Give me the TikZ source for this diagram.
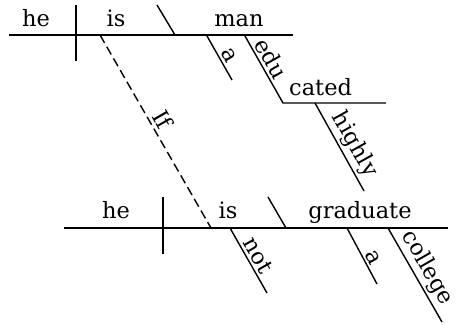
\documentclass[tikz,border=0pt]{standalone}
\usepackage{fontspec}
\setmainfont{DejaVu Serif}
\usepackage{tikz}
\usetikzlibrary{calc}

\begin{document}
\begin{tikzpicture}[x=1pt, y=-1pt,
  rule/.style={line width=1.4pt},
  word/.style={font=\fontsize{22.5}{26}\selectfont, inner sep=0pt, anchor=base},
  slantword/.style={font=\fontsize{22.5}{26}\selectfont, sloped, above, inner sep=2.5pt},
  condline/.style={rule, dash pattern=on 9pt off 4.5pt}
]
  \useasboundingbox (0,0) rectangle (456,326);

  % main clause
  \coordinate (topL) at (9,35);
  \coordinate (topR) at (293,35);
  \coordinate (topDivA) at (76,5);
  \coordinate (topDivB) at (76,61);
  \coordinate (topSlA) at (157,5);
  \coordinate (topSlB) at (175,35);
  \coordinate (artA) at (207,36);
  \coordinate (artB) at (232,80);
  \coordinate (eduA) at (245,36);
  \coordinate (eduB) at (283,103);
  \coordinate (eduC) at (386,103);
  \coordinate (highA) at (315,103);
  \coordinate (highB) at (364,191);

  \node[word] (heTop) at (36,27) {he};
  \node[word] (isTop) at (116,27) {is};
  \node[word] (manTop) at (239,27) {man};
  \node[word, anchor=base west] (cated) at (289,96) {cated};

  \draw[rule] (topL) -- (topR);
  \draw[rule] (topDivA) -- (topDivB);
  \draw[rule] (topSlA) -- (topSlB);
  \draw[rule] (artA) -- node[slantword, pos=.55] (artTop) {a} (artB);
  \draw[rule] (eduA) -- node[slantword, pos=.42] (edu) {edu} (eduB) -- (eduC);
  \draw[rule] (highA) -- node[slantword, pos=.55] (highly) {highly} (highB);

  % subordinate clause
  \coordinate (botL) at (64,228);
  \coordinate (botR) at (448,228);
  \coordinate (botDivA) at (163,197);
  \coordinate (botDivB) at (163,254);
  \coordinate (botSlA) at (268,197);
  \coordinate (botSlB) at (286,228);
  \coordinate (notA) at (230,228);
  \coordinate (notB) at (267,293);
  \coordinate (art2A) at (347,228);
  \coordinate (art2B) at (377,284);
  \coordinate (colA) at (388,228);
  \coordinate (colB) at (442,322);

  \node[word] (heBot) at (116,219) {he};
  \node[word] (isBot) at (228,219) {is};
  \node[word] (grad) at (360,219) {graduate};

  \draw[rule] (botL) -- (botR);
  \draw[rule] (botDivA) -- (botDivB);
  \draw[rule] (botSlA) -- (botSlB);
  \draw[rule] (notA) -- node[slantword, pos=.5] (notW) {not} (notB);
  \draw[rule] (art2A) -- node[slantword, pos=.6] (artBot) {a} (art2B);
  \draw[rule] (colA) -- node[slantword, pos=.5] (college) {college} (colB);

  % connective
  \coordinate (ifA) at (100,35);
  \coordinate (ifB) at (211,228);
  \draw[condline] (ifA) -- node[slantword, pos=.47, inner sep=3.5pt] (ifW) {If} (ifB);
\end{tikzpicture}
\end{document}
